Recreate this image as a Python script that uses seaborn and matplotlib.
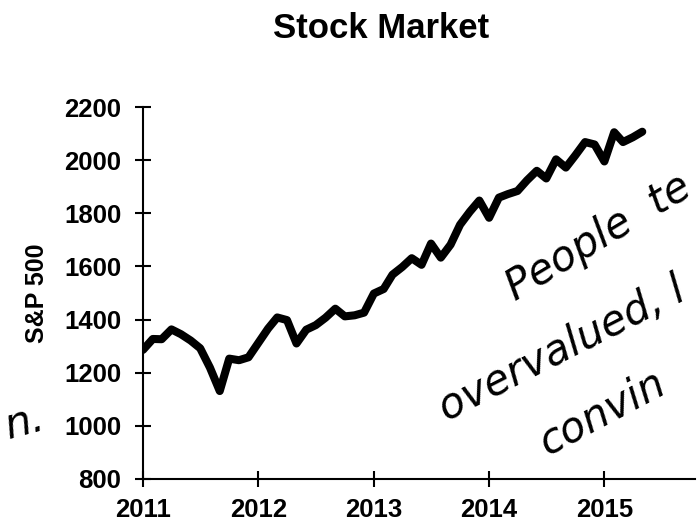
import pandas as pd
import matplotlib.pyplot as plt
import matplotlib.dates as mdates
import seaborn as sns

# monthly S&P 500 closes (Jan 2011 .. May 2015)
months = pd.date_range("2011-01-01", "2015-05-01", freq="MS")
sp500 = [1286, 1327, 1326, 1363, 1345, 1321, 1292, 1219, 1131, 1253, 1247, 1258,
         1312, 1366, 1408, 1398, 1310, 1362, 1379, 1407, 1441, 1412, 1416, 1426,
         1498, 1515, 1569, 1598, 1631, 1606, 1686, 1633, 1682, 1757, 1806, 1848,
         1783, 1859, 1872, 1884, 1924, 1960, 1931, 2003, 1972, 2018, 2068, 2059,
         1995, 2105, 2068, 2086, 2107]
y_ticks = [800, 1000, 1200, 1400, 1600, 1800, 2000, 2200]
year_ticks = ["2011", "2012", "2013", "2014", "2015"]

df = pd.DataFrame({"Month": months, "SP500": sp500})

sns.set_theme(style="ticks")
plt.rcParams["font.family"] = ["Liberation Sans", "DejaVu Sans"]

fig = plt.figure(figsize=(6.98, 5.24), dpi=100)
ax = fig.add_axes([0.2049, 0.0859, 0.7908, 0.7099])

sns.lineplot(data=df, x="Month", y="SP500", color="black", linewidth=5.8, ax=ax)
for l in ax.lines:
    l.set_solid_joinstyle("round")
    l.set_solid_capstyle("round")

ax.set_ylim(800, 2200)
ax.set_yticks(y_ticks)
ax.set_xlim(pd.Timestamp("2011-01-01"), pd.Timestamp("2015-10-15"))
ax.set_xticks([pd.Timestamp(y + "-01-01") for y in year_ticks])
ax.xaxis.set_major_formatter(mdates.DateFormatter("%Y"))

sns.despine(ax=ax)
for s in ["left", "bottom"]:
    ax.spines[s].set_linewidth(1.5)
    ax.spines[s].set_color("black")
ax.tick_params(axis="both", direction="inout", length=11, width=1.5, color="black",
               labelsize=18.5, labelcolor="black")
ax.tick_params(axis="y", pad=10)
ax.tick_params(axis="x", pad=8)
for lab in ax.get_xticklabels() + ax.get_yticklabels():
    lab.set_fontweight("bold")

ax.set_xlabel("")
ax.set_ylabel("S&P 500", fontsize=18, fontweight="bold", color="black", labelpad=11)

fig.text(0.546, 0.945, "Stock Market", fontsize=25, fontweight="bold",
         ha="center", va="center", color="black")

# handwritten notes scribbled over the chart
hand = dict(family="DejaVu Sans", style="italic", fontsize=30, color="black",
            ha="left", va="baseline", rotation_mode="anchor")
fig.text(0.738, 0.425, "People  te", rotation=31, **hand)
fig.text(0.640, 0.195, "overvalued, l", rotation=27, **hand)
fig.text(0.783, 0.130, "convin", rotation=28, **hand)
fig.text(0.012, 0.163, "n.", rotation=15, **hand)

fig.savefig("out.png", dpi=100)
